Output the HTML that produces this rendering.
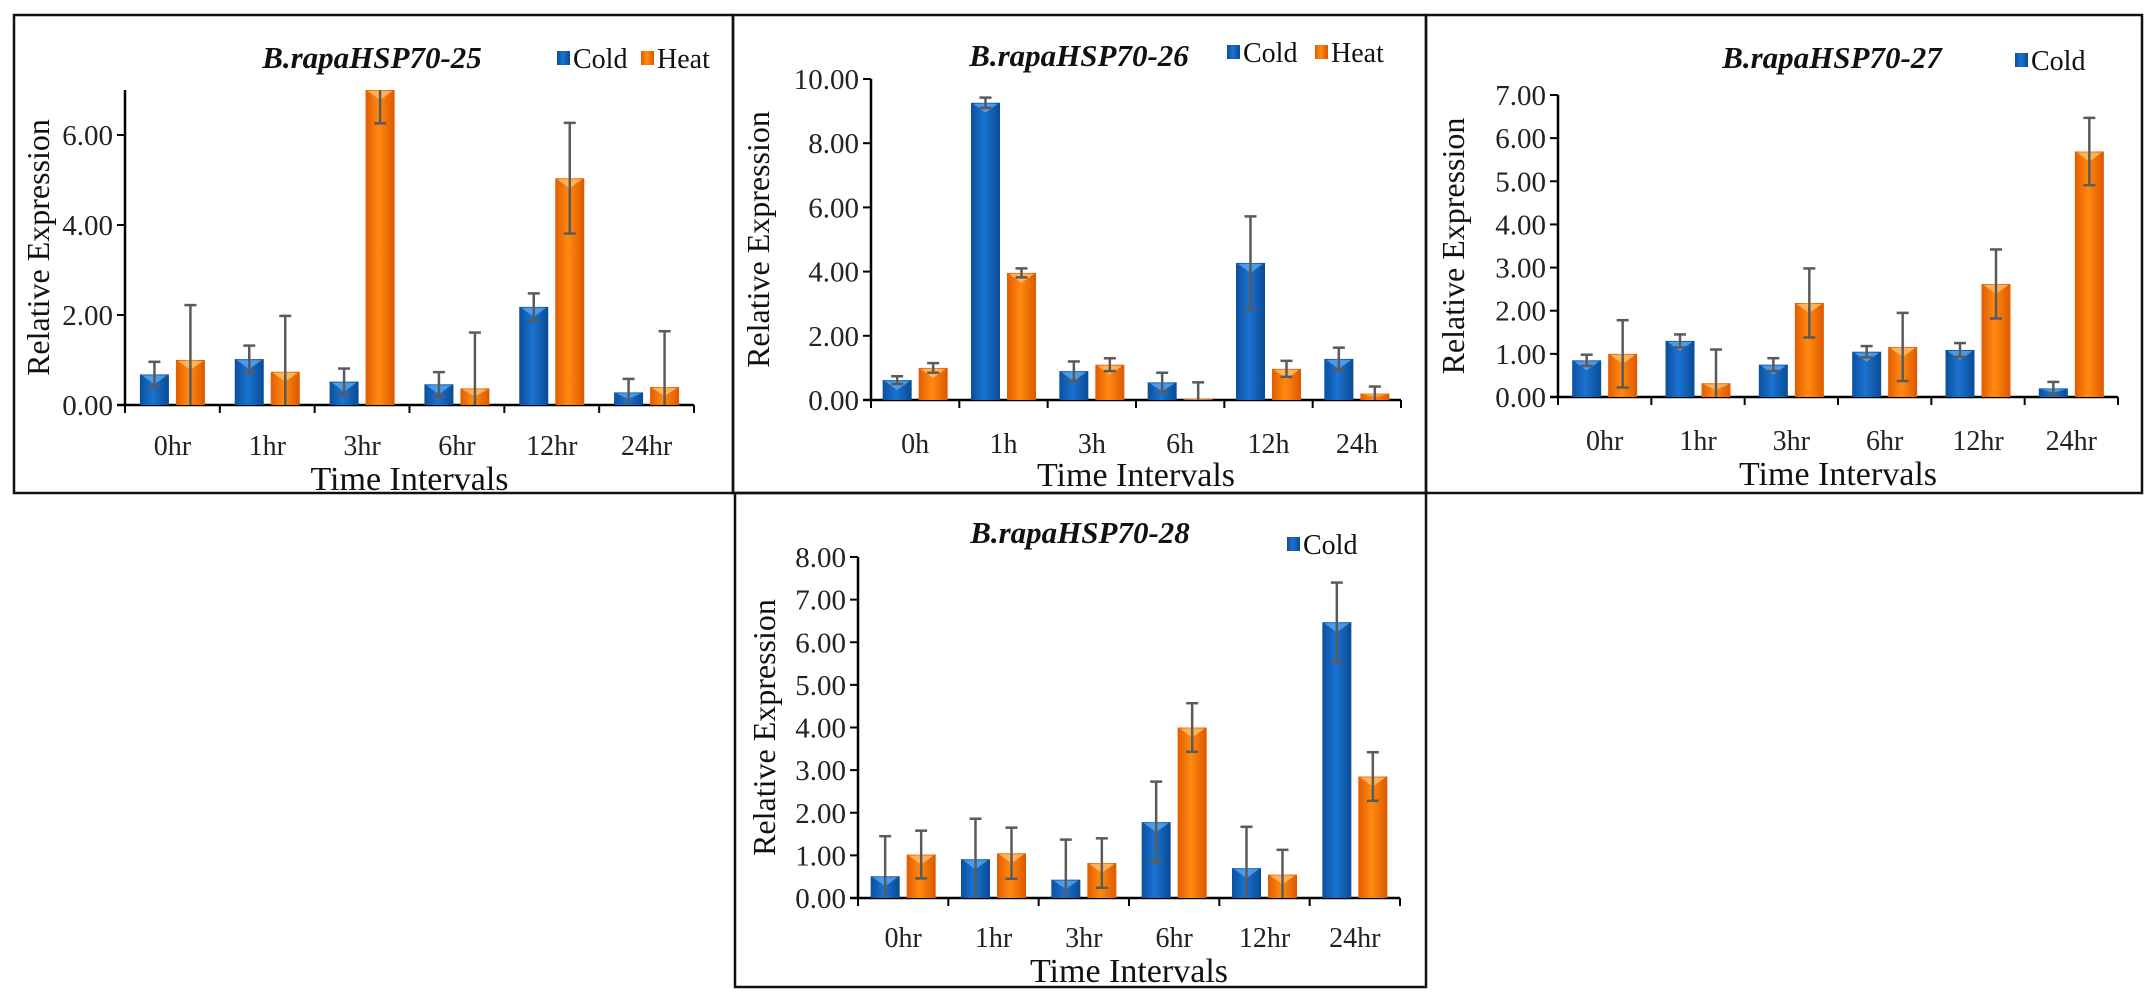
<!DOCTYPE html>
<html><head><meta charset="utf-8">
<style>
html,body{margin:0;padding:0;background:#fff;}
svg{display:block;font-family:"Liberation Serif",serif;}
</style></head>
<body>
<svg id="fig" width="2155" height="997" viewBox="0 0 2155 997" xmlns="http://www.w3.org/2000/svg">
<defs>
<linearGradient id="gBlue" x1="0" x2="1" y1="0" y2="0">
<stop offset="0" stop-color="#0b4f9e"/><stop offset="0.45" stop-color="#1a73d2"/><stop offset="1" stop-color="#0a4a94"/>
</linearGradient>
<linearGradient id="gOrange" x1="0" x2="1" y1="0" y2="0">
<stop offset="0" stop-color="#e35c00"/><stop offset="0.45" stop-color="#ff8a10"/><stop offset="1" stop-color="#dd5800"/>
</linearGradient>
</defs>
</svg>
<script>
// Panel 1: B.rapaHSP70-25
const cats1 = ["0hr","1hr","3hr","6hr","12hr","24hr"];
const cold1 = [0.68,1.02,0.52,0.46,2.18,0.28];
const coldErr1 = [0.28,0.30,0.29,0.27,0.30,0.30];
const heat1 = [1.00,0.74,7.60,0.37,5.04,0.40];
const heatErr1 = [1.22,1.24,1.34,1.24,1.23,1.24];
const ticks1 = [0,2,4,6];
// Panel 2: B.rapaHSP70-26
const cats2 = ["0h","1h","3h","6h","12h","24h"];
const cold2 = [0.62,9.26,0.90,0.55,4.27,1.28];
const coldErr2 = [0.12,0.16,0.30,0.30,1.45,0.35];
const heat2 = [1.00,3.96,1.10,0.03,0.97,0.20];
const heatErr2 = [0.15,0.14,0.20,0.52,0.25,0.22];
const ticks2 = [0,2,4,6,8,10];
// Panel 3: B.rapaHSP70-27
const cats3 = ["0hr","1hr","3hr","6hr","12hr","24hr"];
const cold3 = [0.85,1.30,0.75,1.05,1.09,0.20];
const coldErr3 = [0.13,0.15,0.15,0.13,0.16,0.15];
const heat3 = [1.00,0.32,2.18,1.16,2.62,5.69];
const heatErr3 = [0.78,0.78,0.80,0.79,0.80,0.78];
const ticks3 = [0,1,2,3,4,5,6,7];
// Panel 4: B.rapaHSP70-28
const cats4 = ["0hr","1hr","3hr","6hr","12hr","24hr"];
const cold4 = [0.51,0.91,0.43,1.78,0.70,6.47];
const coldErr4 = [0.94,0.95,0.94,0.95,0.97,0.93];
const heat4 = [1.02,1.05,0.82,4.00,0.55,2.85];
const heatErr4 = [0.56,0.60,0.58,0.57,0.58,0.57];
const ticks4 = [0,1,2,3,4,5,6,7,8];

const panels = [
 {id:"hsp70-25",title:"B.rapaHSP70-25",cats:cats1,cold:cold1,coldErr:coldErr1,heat:heat1,heatErr:heatErr1,ticks:ticks1,ymax:7,
  box:[14,15,733,493],ax0:125,ax1:694,y0:405,ytop:90,titleX:372,titleY:68,leg:[{x:563,y:58,t:"Cold",c:"url(#gBlue)"},{x:647,y:58,t:"Heat",c:"url(#gOrange)"}],
  catY:446,xtY:478,ylX:38},
 {id:"hsp70-26",title:"B.rapaHSP70-26",cats:cats2,cold:cold2,coldErr:coldErr2,heat:heat2,heatErr:heatErr2,ticks:ticks2,ymax:10,
  box:[733,15,1426,493],ax0:871,ax1:1401,y0:400,ytop:79,titleX:1079,titleY:66,leg:[{x:1233,y:52,t:"Cold",c:"url(#gBlue)"},{x:1321,y:52,t:"Heat",c:"url(#gOrange)"}],
  catY:444,xtY:474,ylX:758},
 {id:"hsp70-27",title:"B.rapaHSP70-27",cats:cats3,cold:cold3,coldErr:coldErr3,heat:heat3,heatErr:heatErr3,ticks:ticks3,ymax:7,
  box:[1426,15,2142,493],ax0:1558,ax1:2118,y0:397,ytop:95,titleX:1832,titleY:68,leg:[{x:2021,y:60,t:"Cold",c:"url(#gBlue)"}],
  catY:441,xtY:473,ylX:1453},
 {id:"hsp70-28",title:"B.rapaHSP70-28",cats:cats4,cold:cold4,coldErr:coldErr4,heat:heat4,heatErr:heatErr4,ticks:ticks4,ymax:8,
  box:[735,493,1426,987],ax0:858,ax1:1400,y0:898,ytop:557,titleX:1080,titleY:543,leg:[{x:1293,y:544,t:"Cold",c:"url(#gBlue)"}],
  catY:938,xtY:970,ylX:764}
];

const NS="http://www.w3.org/2000/svg";
const svg=document.getElementById('fig');
function mk(tag,attrs,parent){const e=document.createElementNS(NS,tag);for(const k in attrs)e.setAttribute(k,attrs[k]);(parent||svg).appendChild(e);return e;}

panels.forEach(p=>{
  const g=mk('g',{});
  
  
  const [bx0,by0,bx1,by1]=p.box;
  const border=mk('rect',{x:bx0,y:by0,width:bx1-bx0,height:by1-by0,fill:'none',stroke:'#111','stroke-width':2.5},g);
  
  
  const yScale=v=>p.y0-(Math.min(v,p.ymax))*(p.y0-p.ytop)/p.ymax;
  const n=p.cats.length, cw=(p.ax1-p.ax0)/n;
  const xCenter=i=>p.ax0+cw*(i+0.5);
  const yl=mk('line',{x1:p.ax0,x2:p.ax0,y1:p.ytop,y2:p.y0,stroke:'#000','stroke-width':2.5},g);
  
  
  p.ticks.forEach(t=>{
    const y=yScale(t);
    const tk=mk('line',{x1:p.ax0-8,x2:p.ax0,y1:y,y2:y,stroke:'#000','stroke-width':2},g);
    
    
    const tl=mk('text',{x:p.ax0-12,y:y+10,'text-anchor':'end','font-size':29,fill:'#222'},g);
    tl.textContent=t.toFixed(2);
    
    
  });
  const xl=mk('line',{x1:p.ax0-8,x2:p.ax1,y1:p.y0,y2:p.y0,stroke:'#000','stroke-width':2.5},g);
  
  
  for(let i=0;i<=n;i++){
    const x=p.ax0+cw*i;
    const tk=mk('line',{x1:x,x2:x,y1:p.y0,y2:p.y0+8,stroke:'#000','stroke-width':2},g);
    
    
  }
  const bw=29;
  const series=[{vals:p.cold,errs:p.coldErr,fill:'url(#gBlue)',off:-18,name:'cold',top:'#5aa7ee'},{vals:p.heat,errs:p.heatErr,fill:'url(#gOrange)',off:18,name:'heat',top:'#ffc070'}];
  p.cats.forEach((c,i)=>{
    series.forEach(s=>{
      const cx=xCenter(i)+s.off, v=s.vals[i], y=yScale(v);
      const r=mk('rect',{x:cx-bw/2,y:y,width:bw,height:p.y0-y,fill:s.fill},g);
      
      
      if(p.y0-y>6){
        const tri=mk('polygon',{points:`${cx-bw/2+2},${y+1} ${cx+bw/2-2},${y+1} ${cx},${y+Math.min(10,(p.y0-y)/2)}`,fill:s.top,opacity:0.8},g);
        
        
      }
      const e=s.errs[i];
      const yt=yScale(Math.min(v+e,p.ymax)), yb=yScale(Math.max(v-e,0));
      const eg=mk('g',{stroke:'#5a5a5a','stroke-width':2.5},g);
      
      
      mk('line',{x1:cx,x2:cx,y1:yt,y2:yb},eg);
      if(v+e<=p.ymax) mk('line',{x1:cx-6,x2:cx+6,y1:yt,y2:yt},eg);
      if(v-e>0) mk('line',{x1:cx-6,x2:cx+6,y1:yb,y2:yb},eg);
    });
    const cl=mk('text',{x:xCenter(i),y:p.catY+9,'text-anchor':'middle','font-size':28,fill:'#222'},g);
    cl.textContent=c;
    
    
  });
  const xt=mk('text',{x:(p.ax0+p.ax1)/2,y:p.xtY+12,'text-anchor':'middle','font-size':34,fill:'#111'},g);
  xt.textContent='Time Intervals';
  
  
  const ymid=(p.ytop+p.y0)/2;
  const yt=mk('text',{x:p.ylX,y:ymid,'text-anchor':'middle','font-size':32,fill:'#111',transform:`rotate(-90 ${p.ylX} ${ymid})`,'dominant-baseline':'central'},g);
  yt.textContent='Relative Expression';
  
  
  const tt=mk('text',{x:p.titleX,y:p.titleY,'text-anchor':'middle','font-size':31,'font-weight':'bold','font-style':'italic',fill:'#111'},g);
  tt.textContent=p.title;
  
  
  p.leg.forEach(l=>{
    const lg=mk('g',{},g);
    
    
    mk('rect',{x:l.x-6,y:l.y-7,width:13,height:14,fill:l.c},lg);
    const lt=mk('text',{x:l.x+10,y:l.y+10,'font-size':28,fill:'#111'},lg);
    lt.textContent=l.t;
  });
});
</script>
</body></html>
